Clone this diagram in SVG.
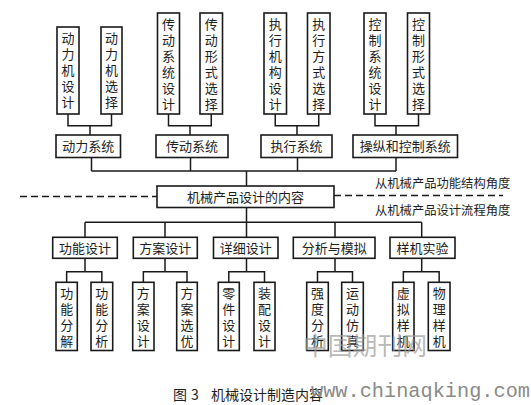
<svg xmlns="http://www.w3.org/2000/svg" width="531" height="405" viewBox="0 0 531 405">
<style>
rect.b{fill:#fff;stroke:#1a1a1a;stroke-width:1.6}
text{font-family:"Noto Sans CJK SC","Noto Sans CJK JP",sans-serif;fill:#1e1e1e}
.t{font-size:13px;text-anchor:middle}
.v{font-size:13px;writing-mode:vertical-rl;letter-spacing:3px}
.s{font-size:12.3px}
.c{font-size:14px}
#connectors path{fill:none;stroke:#1a1a1a;stroke-width:1.5}
#connectors path.d{stroke-dasharray:7 4}
.wm{font-family:"Noto Sans CJK SC",sans-serif;fill:#9a9a9a;fill-opacity:0.7}
.wm2{font-family:"Liberation Mono",monospace;fill:#8a8a8a}
</style>
<rect width="531" height="405" fill="#fff"/>
<g id="connectors">
<path d="M68 114V125.7H111.5V114M90 125.7V135"/>
<path d="M168.5 114V125.7H211.25V114M190 125.7V135"/>
<path d="M275.25 114V125.7H318.75V114M297 125.7V135"/>
<path d="M375 114V125.7H418.5V114M396 125.7V135"/>
<path d="M91.5 157.5V171M190.5 157.5V171M297.5 157.5V171M396 157.5V171M91.5 171H396M246.5 171V186"/>
<path d="M246.5 207.5V222.3M85 222.3H421.7M85 222.3V237.3M165 222.3V237.3M246.5 222.3V237.3M335 222.3V237.3M421.7 222.3V237.3"/>
<path d="M85 258.3V271.7M66.65 282.3V271.7H101.85V282.3"/>
<path d="M165 258.3V271.7M143.35 282.3V271.7H187V282.3"/>
<path d="M246.5 258.3V271.7M228.8 282.3V271.7H264.5V282.3"/>
<path d="M335 258.3V271.7M317.5 282.3V271.7H352.5V282.3"/>
<path d="M421.7 258.3V271.7M403.35 282.3V271.7H439.15V282.3"/>
<path class="d" d="M20 196.5H157"/>
<path class="d" d="M334 195.5H503"/>
</g>
<g id="n_dlj_sj"><rect class="b" x="57" y="27" width="22" height="87"/><text class="v" x="68" y="32">动力机设计</text></g>
<g id="n_dlj_xz"><rect class="b" x="101" y="27" width="21" height="87"/><text class="v" x="111.5" y="32">动力机选择</text></g>
<g id="n_cd_sj"><rect class="b" x="157.5" y="13" width="22" height="101"/><text class="v" x="168.5" y="18">传动系统设计</text></g>
<g id="n_cd_xz"><rect class="b" x="200" y="13" width="22.5" height="101"/><text class="v" x="211.25" y="18">传动形式选择</text></g>
<g id="n_zx_sj"><rect class="b" x="264" y="13" width="22.5" height="101"/><text class="v" x="275.25" y="18">执行机构设计</text></g>
<g id="n_zx_xz"><rect class="b" x="307.5" y="13" width="22.5" height="101"/><text class="v" x="318.75" y="18">执行方式选择</text></g>
<g id="n_kz_sj"><rect class="b" x="364" y="13" width="22" height="101"/><text class="v" x="375" y="18">控制系统设计</text></g>
<g id="n_kz_xz"><rect class="b" x="407.5" y="13" width="22" height="101"/><text class="v" x="418.5" y="18">控制形式选择</text></g>
<g id="n_dlxt"><rect class="b" x="56" y="135" width="64.5" height="22.5"/><text class="t" x="88.25" y="151">动力系统</text></g>
<g id="n_cdxt"><rect class="b" x="156" y="135" width="72" height="22.5"/><text class="t" x="192" y="151">传动系统</text></g>
<g id="n_zxxt"><rect class="b" x="261" y="135" width="71" height="22.5"/><text class="t" x="296.5" y="151">执行系统</text></g>
<g id="n_kzxt"><rect class="b" x="353" y="135" width="104.5" height="22.5"/><text class="t" x="405.25" y="151">操纵和控制系统</text></g>
<g id="n_center"><rect class="b" x="157" y="186" width="177" height="21.5"/><text class="t" x="245.5" y="201.7">机械产品设计的内容</text></g>
<g id="lbl_top"><text class="s" x="375" y="188">从机械产品功能结构角度</text></g>
<g id="lbl_bot"><text class="s" x="375" y="214.7">从机械产品设计流程角度</text></g>
<g id="n_gnsj"><rect class="b" x="52.7" y="237.3" width="64.6" height="21"/><text class="t" x="85" y="252.7">功能设计</text></g>
<g id="n_fasj"><rect class="b" x="133.3" y="237.3" width="64" height="21"/><text class="t" x="165.3" y="252.7">方案设计</text></g>
<g id="n_xxsj"><rect class="b" x="213.5" y="237.3" width="64.5" height="21"/><text class="t" x="245.75" y="252.7">详细设计</text></g>
<g id="n_fxmn"><rect class="b" x="293.3" y="237.3" width="81.7" height="21"/><text class="t" x="334.15" y="252.7">分析与模拟</text></g>
<g id="n_yjsy"><rect class="b" x="390" y="237.3" width="65" height="21"/><text class="t" x="422.5" y="252.7">样机实验</text></g>
<g id="n_gnfj"><rect class="b" x="56" y="282.3" width="21.3" height="68.2"/><text class="v" x="66.65" y="287">功能分解</text></g>
<g id="n_gnfx"><rect class="b" x="91" y="282.3" width="21.7" height="68.2"/><text class="v" x="101.85" y="287">功能分析</text></g>
<g id="n_fasj2"><rect class="b" x="132.7" y="282.3" width="21.3" height="68.2"/><text class="v" x="143.35" y="287">方案设计</text></g>
<g id="n_faxy"><rect class="b" x="176.7" y="282.3" width="20.6" height="68.2"/><text class="v" x="187" y="287">方案选优</text></g>
<g id="n_ljsj"><rect class="b" x="218.3" y="282.3" width="21" height="68.2"/><text class="v" x="228.8" y="287">零件设计</text></g>
<g id="n_zpsj"><rect class="b" x="254" y="282.3" width="21" height="68.2"/><text class="v" x="264.5" y="287">装配设计</text></g>
<g id="n_qdfx"><rect class="b" x="306.7" y="282.3" width="21.6" height="68.2"/><text class="v" x="317.5" y="287">强度分析</text></g>
<g id="n_ydfz"><rect class="b" x="341.7" y="282.3" width="21.6" height="68.2"/><text class="v" x="352.5" y="287">运动仿真</text></g>
<g id="n_xnyj"><rect class="b" x="392.7" y="282.3" width="21.3" height="68.2"/><text class="v" x="403.35" y="287">虚拟样机</text></g>
<g id="n_wlyj"><rect class="b" x="428.3" y="282.3" width="21.7" height="68.2"/><text class="v" x="439.15" y="287">物理样机</text></g>
<g id="caption"><text class="c" y="400"><tspan x="173">图</tspan><tspan x="191">3</tspan><tspan x="211">机械设计制造内容</tspan></text></g>
<g id="watermark">
<text class="wm" x="303" y="355" font-size="25" textLength="124" lengthAdjust="spacingAndGlyphs">中国期刊网</text>
<text class="wm2" x="311" y="397" font-size="20" textLength="219" lengthAdjust="spacingAndGlyphs">www.chinaqking.com</text>
</g>
</svg>
